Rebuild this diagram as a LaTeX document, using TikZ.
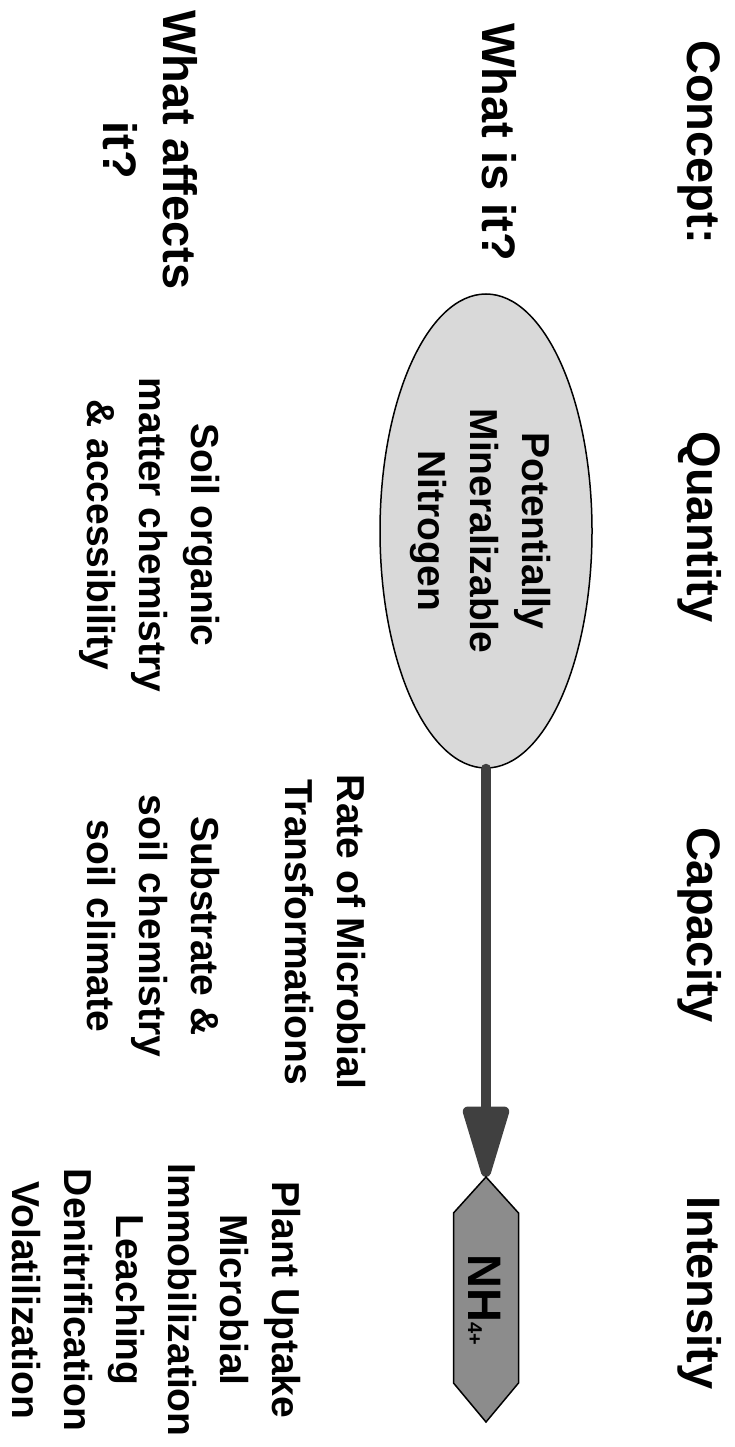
\documentclass[tikz,border=0pt]{standalone}
\usepackage{fontspec}
\setmainfont{Liberation Sans}
\usetikzlibrary{shapes.geometric,arrows.meta}
\definecolor{poolgray}{gray}{0.85}
\definecolor{nhgray}{gray}{0.55}
\definecolor{flowgray}{gray}{0.25}

\begin{document}
\begin{tikzpicture}
            [x=1pt, y=-1pt,
             head/.style={rotate=-90, anchor=base, inner sep=0pt, font=\bfseries\fontsize{47}{60}\selectfont},
             lbl/.style={rotate=-90, anchor=north, align=center, inner sep=0pt, font=\bfseries\fontsize{39}{52}\selectfont},
             pool/.style={ellipse, draw=black, line width=1.5pt, fill=poolgray, minimum width=212pt, minimum height=474pt, inner sep=0pt},
             nhbox/.style={draw=black, line width=1.5pt, fill=nhgray},
             flow/.style={draw=flowgray, line width=10pt, line cap=round, -{Triangle[width=47pt,length=84pt,round]}}]
            \useasboundingbox (0,0) rectangle (735,1447);

            % Column and row headings
            \node[head] (concept) at (687, 142) {Concept:};
            \node[head] (quantity) at (687, 527) {Quantity};
            \node[head] (capacity) at (687, 925) {Capacity};
            \node[head] (intensity) at (687, 1293) {Intensity};
            \node[head] (whatis) at (482, 142) {What is it?};
            \node[head, anchor=north, align=center] (affects) at (198, 150) {What affects\\it?};

            % The nitrogen pool
            \node[pool] (pmn) at (486, 531) {};
            \node[lbl] (pmntext) at (551, 531) {Potentially\\Mineralizable\\Nitrogen};

            % Ammonium
            \coordinate (nhtip) at (486, 1177);
            \draw[flow] (pmn.south) -- (nhtip);
            \draw[nhbox] (nhtip) -- (518.5, 1213) -- (518.5, 1383) -- (486, 1422)
                -- (453.5, 1383) -- (453.5, 1213) -- cycle;
            \node[head] (nh) at (468, 1300) {NH{\fontsize{20}{24}\selectfont 4+}};

            % What is it / what affects it
            \node[lbl] (rate) at (366, 932) {Rate of Microbial\\Transformations};
            \node[lbl] (soilorg) at (220, 535) {Soil organic\\matter chemistry\\\& accessibility};
            \node[lbl] (substrate) at (220, 926) {Substrate \&\\soil chemistry\\soil climate};
            \node[lbl] (losses) at (301, 1300) {Plant Uptake\\Microbial\\Immobilization\\Leaching\\Denitrification\\Volatilization};
        \end{tikzpicture}
\end{document}
